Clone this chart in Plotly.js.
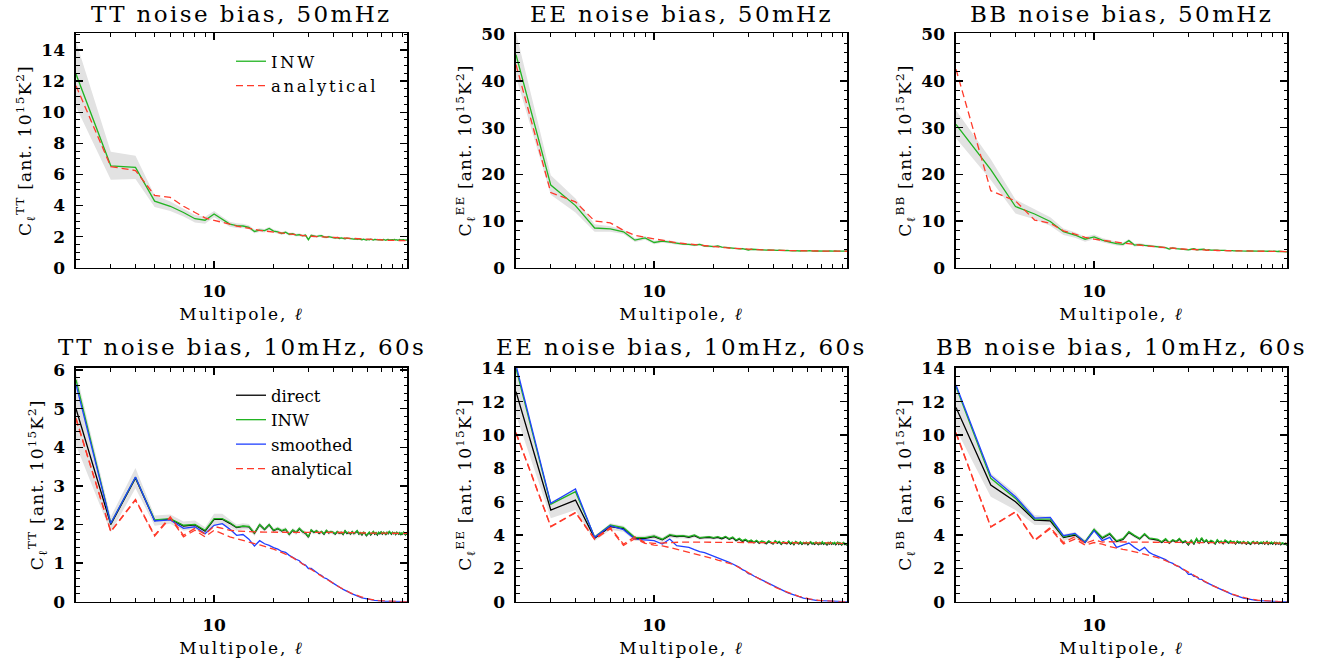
<!DOCTYPE html>
<html>
<head>
<meta charset="utf-8">
<script src="https://cdn.plot.ly/plotly-3.0.1.min.js"></script>
<style>
  html, body { margin: 0; padding: 0; background: #fff; }
  #chart { width: 1326px; height: 666px; }
  .annotation-text { letter-spacing: 2.4px; }
  .legendtext { letter-spacing: 2.6px; }
  .xtitle, .x2title, .x3title, .x4title, .x5title, .x6title { letter-spacing: 2px; }
  .ytitle, .y2title, .y3title, .y4title, .y5title, .y6title { letter-spacing: 1.2px; }
</style>
</head>
<body>
<div id="chart"></div>
<script>
// Multipoles
const ell = [2,3,4,5,6,7,8,9,10,11,12,13,14,15,16,17,18,19,20,21,22,23,24,25,26,27,28,29,30,31,32,33,34,35,36,37,38,39,40,41,42,43,44,45,46,47,48,49,50,51,52,53,54,55,56,57,58,59,60,61,62,63,64,65,66,67,68,69,70,71,72,73,74,75,76,77,78,79,80,81,82,83,84,85,86,87,88,89,90,91,92,93,94,95];
const xTickVals = [10];
const xTickText = ['10'];
const xMinorVals = [3,4,5,6,7,8,9,20,30,40,50,60,70,80,90];

// ---------- Top row: 50 mHz ----------
const TT50_INW = [12.45,6.55,6.45,4.28,3.95,3.55,3.15,3.05,
3.45,3.1,2.8,2.7,2.68,2.6,2.33,2.42,2.38,2.52,
2.35,2.3,2.2,2.28,2.15,2.18,2.1,2.12,2.05,2.1,
1.8,2.08,2.02,2.0,2.05,2.06,1.98,1.95,2.0,1.95,
1.92,1.9,1.94,1.88,1.92,1.9,1.86,1.9,1.88,1.85,
1.88,1.84,1.86,1.82,1.86,1.84,1.8,1.84,1.82,1.78,
1.82,1.8,1.84,1.8,1.78,1.82,1.8,1.83,1.79,1.81,
1.8,1.78,1.82,1.8,1.76,1.8,1.82,1.78,1.8,1.77,
1.8,1.79,1.82,1.78,1.8,1.76,1.79,1.81,1.78,1.8,
1.78,1.8,1.77,1.79,1.76,1.78];
const TT50_ANA = [11.7,6.5,6.25,4.65,4.52,3.95,3.55,3.2,
3.05,2.9,2.78,2.68,2.6,2.52,2.46,2.4,2.36,2.32,
2.28,2.24,2.21,2.18,2.15,2.13,2.11,2.09,2.07,2.05,
2.03,2.02,2.0,1.99,1.98,1.96,1.95,1.94,1.93,1.92,
1.91,1.9,1.9,1.89,1.88,1.88,1.87,1.86,1.86,1.85,
1.85,1.84,1.84,1.83,1.83,1.82,1.82,1.82,1.81,1.81,
1.8,1.8,1.8,1.79,1.79,1.79,1.78,1.78,1.78,1.78,
1.77,1.77,1.77,1.77,1.76,1.76,1.76,1.76,1.76,1.75,
1.75,1.75,1.75,1.75,1.75,1.75,1.75,1.75,1.75,1.75,
1.75,1.74,1.74,1.74,1.74,1.74];
const TT50_ERR = [2.1,0.9,0.75,0.38,0.3,0.26,0.24,0.22,
0.2,0.18,0.16,0.15,0.14,0.13,0.12,0.12,0.11,0.11,
0.1,0.1,0.1,0.1,0.1,0.09,0.09,0.09,0.09,0.09,
0.09,0.08,0.08,0.08,0.08,0.08,0.08,0.08,0.07,0.07,
0.07,0.07,0.07,0.07,0.07,0.07,0.07,0.06,0.06,0.06,
0.06,0.06,0.06,0.06,0.06,0.06,0.06,0.06,0.06,0.06,
0.06,0.06,0.06,0.06,0.06,0.06,0.06,0.06,0.06,0.06,
0.05,0.05,0.05,0.05,0.05,0.05,0.05,0.05,0.05,0.05,
0.05,0.05,0.05,0.05,0.05,0.05,0.05,0.05,0.05,0.05,
0.05,0.05,0.05,0.05,0.05,0.05];

const EE50_INW = [45.6,17.7,13.3,8.5,8.3,7.7,5.9,6.4,
5.4,5.7,5.5,5.2,5.05,5.0,4.85,5.0,4.65,4.6,
4.5,4.65,4.4,4.35,4.25,4.15,4.2,4.05,4.1,3.98,
3.8,3.95,3.9,3.85,3.9,3.82,3.85,3.78,3.8,3.75,
3.72,3.78,3.7,3.74,3.68,3.72,3.66,3.7,3.64,3.68,
3.62,3.66,3.6,3.64,3.62,3.58,3.65,3.6,3.62,3.56,
3.6,3.64,3.58,3.62,3.55,3.6,3.58,3.62,3.56,3.6,
3.58,3.55,3.6,3.57,3.54,3.58,3.55,3.6,3.56,3.54,
3.57,3.55,3.58,3.53,3.56,3.54,3.57,3.52,3.55,3.54,
3.56,3.52,3.55,3.53,3.56,3.55];
const EE50_ANA = [43.5,16.1,14.1,10.0,9.6,8.0,6.9,6.5,
6.1,5.8,5.55,5.35,5.2,5.05,4.92,4.8,4.7,4.6,
4.5,4.42,4.35,4.28,4.22,4.16,4.11,4.06,4.02,3.98,
3.95,3.92,3.89,3.86,3.84,3.82,3.8,3.78,3.76,3.75,
3.73,3.72,3.71,3.7,3.69,3.68,3.67,3.66,3.65,3.65,
3.64,3.63,3.63,3.62,3.62,3.61,3.61,3.6,3.6,3.6,
3.59,3.59,3.59,3.58,3.58,3.58,3.58,3.57,3.57,3.57,
3.57,3.56,3.56,3.56,3.56,3.56,3.55,3.55,3.55,3.55,
3.55,3.54,3.54,3.54,3.54,3.54,3.53,3.53,3.53,3.53,
3.53,3.52,3.52,3.52,3.52,3.52];
const EE50_ERR = [4.7,2.1,1.5,0.8,0.6,0.5,0.42,0.4,
0.36,0.33,0.3,0.28,0.27,0.26,0.25,0.24,0.23,0.22,
0.21,0.2,0.19,0.19,0.18,0.18,0.17,0.17,0.16,0.16,
0.15,0.15,0.15,0.14,0.14,0.14,0.13,0.13,0.13,0.13,
0.12,0.12,0.12,0.12,0.12,0.11,0.11,0.11,0.11,0.11,
0.1,0.1,0.1,0.1,0.1,0.1,0.1,0.1,0.1,0.1,
0.1,0.1,0.1,0.1,0.1,0.1,0.1,0.1,0.1,0.1,
0.09,0.09,0.09,0.09,0.09,0.09,0.09,0.09,0.09,0.09,
0.09,0.09,0.09,0.09,0.09,0.09,0.09,0.09,0.09,0.09,
0.08,0.08,0.08,0.08,0.08,0.08];

const BB50_INW = [30.7,21.0,13.1,11.5,9.9,7.7,7.0,6.1,
6.6,5.9,5.5,5.15,5.0,5.8,4.85,4.95,4.8,4.7,
4.5,4.45,4.35,4.3,4.0,4.25,4.1,4.05,4.0,3.95,
3.8,3.95,4.05,3.85,3.9,3.8,3.95,3.7,3.85,3.75,
3.8,3.72,3.78,3.7,3.75,3.68,3.72,3.66,3.7,3.64,
3.66,3.62,3.68,3.6,3.64,3.62,3.58,3.63,3.6,3.57,
3.6,3.62,3.56,3.6,3.58,3.54,3.6,3.57,3.53,3.58,
3.55,3.52,3.57,3.54,3.5,3.55,3.52,3.56,3.5,3.53,
3.5,3.54,3.48,3.52,3.5,3.47,3.52,3.49,3.46,3.5,
3.47,3.45,3.49,3.44,3.4,3.45];
const BB50_ANA = [42.5,16.5,14.3,10.2,9.5,7.9,7.2,6.5,
6.1,5.85,5.6,5.4,5.2,5.05,4.92,4.8,4.7,4.6,
4.5,4.42,4.34,4.27,4.2,4.14,4.09,4.04,4.0,3.96,
3.92,3.89,3.86,3.83,3.81,3.79,3.77,3.75,3.73,3.72,
3.7,3.69,3.68,3.67,3.66,3.65,3.64,3.63,3.62,3.62,
3.61,3.6,3.6,3.59,3.59,3.58,3.58,3.57,3.57,3.56,
3.56,3.56,3.55,3.55,3.55,3.54,3.54,3.54,3.53,3.53,
3.53,3.52,3.52,3.52,3.51,3.51,3.51,3.5,3.5,3.5,
3.5,3.49,3.49,3.49,3.48,3.48,3.48,3.47,3.47,3.47,
3.46,3.46,3.46,3.45,3.45,3.45];
const BB50_ERR = [3.0,2.2,1.5,1.1,0.9,0.7,0.6,0.55,
0.5,0.46,0.43,0.4,0.38,0.36,0.34,0.32,0.3,0.29,
0.28,0.27,0.26,0.25,0.24,0.23,0.22,0.21,0.2,0.2,
0.19,0.18,0.18,0.17,0.17,0.16,0.16,0.15,0.15,0.15,
0.14,0.14,0.14,0.13,0.13,0.13,0.13,0.12,0.12,0.12,
0.12,0.12,0.11,0.11,0.11,0.11,0.11,0.11,0.1,0.1,
0.1,0.1,0.1,0.1,0.1,0.1,0.1,0.1,0.1,0.1,
0.09,0.09,0.09,0.09,0.09,0.09,0.09,0.09,0.09,0.09,
0.09,0.09,0.09,0.09,0.09,0.09,0.09,0.09,0.09,0.09,
0.08,0.08,0.08,0.08,0.08,0.08];

// ---------- Bottom row: 10 mHz, 60 s ----------
const TT10_DIR = [5.0,2.0,3.2,2.1,2.14,1.96,1.99,1.83,
2.13,2.14,2.03,1.92,1.95,1.94,1.77,1.99,1.87,1.99,
1.84,1.89,1.83,1.87,1.74,1.85,1.79,1.89,1.81,1.77,
1.67,1.85,1.79,1.83,1.77,1.81,1.75,1.84,1.78,1.81,
1.79,1.75,1.81,1.77,1.79,1.74,1.83,1.77,1.79,1.75,
1.81,1.76,1.79,1.83,1.75,1.78,1.73,1.79,1.77,1.71,
1.75,1.79,1.73,1.77,1.81,1.75,1.78,1.73,1.79,1.76,
1.8,1.75,1.79,1.77,1.74,1.79,1.76,1.81,1.77,1.75,
1.79,1.76,1.78,1.74,1.79,1.77,1.75,1.78,1.73,1.77,
1.75,1.79,1.76,1.73,1.77,1.74];
const TT10_INW = [5.75,2.03,3.22,2.12,2.15,1.98,2.0,1.85,
2.15,2.15,2.05,1.93,1.96,1.95,1.78,2.0,1.88,2.0,
1.85,1.9,1.84,1.88,1.75,1.86,1.8,1.9,1.82,1.78,
1.68,1.86,1.8,1.84,1.78,1.82,1.76,1.85,1.79,1.82,
1.8,1.76,1.82,1.78,1.8,1.75,1.84,1.78,1.8,1.76,
1.82,1.77,1.8,1.84,1.76,1.79,1.74,1.8,1.78,1.72,
1.76,1.8,1.74,1.78,1.82,1.76,1.79,1.74,1.8,1.77,
1.81,1.76,1.8,1.78,1.75,1.8,1.77,1.82,1.78,1.76,
1.8,1.77,1.79,1.75,1.8,1.78,1.76,1.79,1.74,1.78,
1.76,1.8,1.77,1.74,1.78,1.75];
const TT10_SMO = [5.63,2.03,3.23,2.09,2.12,1.9,1.94,1.76,
1.98,2.02,1.88,1.72,1.74,1.62,1.44,1.58,1.5,1.46,
1.4,1.36,1.3,1.28,1.2,1.16,1.1,1.06,0.98,0.95,
0.86,0.86,0.8,0.76,0.71,0.68,0.62,0.6,0.55,0.52,
0.48,0.44,0.42,0.38,0.35,0.32,0.3,0.27,0.25,0.22,
0.2,0.18,0.16,0.15,0.13,0.12,0.1,0.09,0.08,0.07,
0.06,0.055,0.05,0.045,0.04,0.035,0.03,0.028,0.025,0.02,
0.018,0.016,0.014,0.012,0.01,0.009,0.008,0.007,0.006,0.005,
0.004,0.004,0.003,0.003,0.003,0.002,0.002,0.002,0.002,0.001,
0.001,0.001,0.001,0.001,0.001,0.001];
const TT10_ANA = [4.75,1.82,2.65,1.72,2.2,1.72,1.9,1.75,
1.95,1.9,1.85,1.83,1.82,1.81,1.8,1.8,1.8,1.8,
1.8,1.8,1.8,1.8,1.8,1.8,1.8,1.8,1.8,1.8,
1.8,1.8,1.8,1.8,1.8,1.8,1.79,1.79,1.79,1.79,
1.79,1.79,1.79,1.79,1.79,1.79,1.79,1.79,1.79,1.79,
1.79,1.79,1.79,1.79,1.79,1.78,1.78,1.78,1.78,1.78,
1.78,1.78,1.78,1.78,1.78,1.78,1.78,1.78,1.78,1.78,
1.78,1.78,1.78,1.78,1.78,1.77,1.77,1.77,1.77,1.77,
1.77,1.77,1.77,1.77,1.77,1.77,1.77,1.77,1.77,1.77,
1.77,1.77,1.77,1.77,1.77,1.77];
const TT10_ANAS = [4.73,1.81,2.63,1.7,2.17,1.68,1.85,1.68,
1.85,1.76,1.68,1.63,1.59,1.55,1.51,1.47,1.43,1.4,
1.36,1.32,1.28,1.23,1.19,1.14,1.09,1.04,0.98,0.93,
0.88,0.84,0.79,0.75,0.7,0.66,0.62,0.58,0.54,0.5,
0.47,0.44,0.41,0.38,0.35,0.33,0.3,0.27,0.25,0.23,
0.21,0.19,0.17,0.16,0.14,0.13,0.12,0.1,0.09,0.08,
0.075,0.066,0.06,0.053,0.047,0.042,0.037,0.033,0.029,0.026,
0.023,0.02,0.018,0.016,0.014,0.012,0.011,0.01,0.009,0.008,
0.007,0.006,0.005,0.005,0.004,0.004,0.003,0.003,0.003,0.002,
0.002,0.002,0.002,0.001,0.001,0.001];
const TT10_ERR = [0.95,0.2,0.26,0.13,0.12,0.12,0.11,0.1,
0.15,0.14,0.1,0.08,0.08,0.07,0.07,0.07,0.06,0.06,
0.06,0.06,0.06,0.06,0.06,0.06,0.06,0.06,0.06,0.06,
0.05,0.05,0.05,0.05,0.05,0.05,0.05,0.05,0.05,0.05,
0.05,0.05,0.05,0.05,0.05,0.05,0.05,0.05,0.05,0.05,
0.05,0.05,0.05,0.05,0.05,0.05,0.05,0.05,0.05,0.05,
0.04,0.04,0.04,0.04,0.04,0.04,0.04,0.04,0.04,0.04,
0.04,0.04,0.04,0.04,0.04,0.04,0.04,0.04,0.04,0.04,
0.04,0.04,0.04,0.04,0.04,0.04,0.04,0.04,0.04,0.04,
0.04,0.04,0.04,0.04,0.04,0.04];

const EE10_DIR = [12.6,5.5,6.1,3.8,4.5,4.38,3.8,3.8,
3.91,3.71,3.98,3.91,3.93,3.86,3.96,3.81,3.84,3.86,
3.81,3.86,3.78,3.88,3.74,3.84,3.66,3.76,3.62,3.71,
3.58,3.66,3.54,3.64,3.51,3.6,3.56,3.48,3.61,3.54,
3.46,3.62,3.51,3.58,3.44,3.56,3.52,3.48,3.6,3.46,
3.54,3.42,3.58,3.5,3.46,3.56,3.44,3.52,3.48,3.54,
3.42,3.51,3.56,3.46,3.5,3.44,3.54,3.48,3.42,3.52,
3.46,3.56,3.44,3.5,3.48,3.41,3.52,3.46,3.54,3.44,
3.5,3.46,3.52,3.42,3.48,3.54,3.44,3.5,3.46,3.4,
3.48,3.52,3.44,3.46,3.41,3.48];
const EE10_INW = [14.0,5.85,6.6,3.88,4.6,4.45,3.85,3.85,
3.95,3.75,4.02,3.95,3.97,3.9,4.0,3.85,3.88,3.9,
3.85,3.9,3.82,3.92,3.78,3.88,3.7,3.8,3.66,3.75,
3.62,3.7,3.58,3.68,3.55,3.64,3.6,3.52,3.65,3.58,
3.5,3.66,3.55,3.62,3.48,3.6,3.56,3.52,3.64,3.5,
3.58,3.46,3.62,3.54,3.5,3.6,3.48,3.56,3.52,3.58,
3.46,3.55,3.6,3.5,3.54,3.48,3.58,3.52,3.46,3.56,
3.5,3.6,3.48,3.54,3.52,3.45,3.56,3.5,3.58,3.48,
3.54,3.5,3.56,3.46,3.52,3.58,3.48,3.54,3.5,3.44,
3.52,3.56,3.48,3.5,3.45,3.52];
const EE10_SMO = [14.2,5.9,6.76,3.86,4.56,4.32,3.76,3.72,
3.66,3.46,3.76,3.36,3.32,3.26,3.12,3.0,2.94,2.84,
2.7,2.64,2.55,2.48,2.36,2.26,2.16,2.06,1.92,1.84,
1.68,1.64,1.54,1.46,1.36,1.3,1.22,1.14,1.08,1.0,
0.94,0.9,0.83,0.77,0.71,0.66,0.61,0.56,0.51,0.47,
0.43,0.39,0.36,0.32,0.29,0.27,0.24,0.22,0.2,0.18,
0.16,0.14,0.13,0.11,0.1,0.09,0.08,0.07,0.06,0.055,
0.05,0.045,0.04,0.035,0.03,0.027,0.024,0.02,0.018,0.016,
0.014,0.012,0.011,0.01,0.009,0.008,0.007,0.006,0.005,0.004,
0.004,0.003,0.003,0.002,0.002,0.002];
const EE10_ANA = [10.15,4.52,5.36,3.78,4.45,3.45,3.9,3.55,
3.5,3.52,3.58,3.6,3.58,3.58,3.57,3.57,3.56,3.56,
3.56,3.56,3.56,3.56,3.56,3.56,3.56,3.56,3.56,3.56,
3.55,3.55,3.55,3.55,3.55,3.55,3.55,3.55,3.55,3.55,
3.55,3.55,3.55,3.55,3.55,3.54,3.54,3.54,3.54,3.54,
3.54,3.54,3.54,3.54,3.54,3.54,3.54,3.54,3.54,3.54,
3.53,3.53,3.53,3.53,3.53,3.53,3.53,3.53,3.53,3.53,
3.52,3.52,3.52,3.52,3.52,3.52,3.52,3.52,3.52,3.52,
3.52,3.52,3.52,3.52,3.52,3.51,3.51,3.51,3.51,3.51,
3.51,3.5,3.5,3.5,3.5,3.5];
const EE10_ANAS = [10.1,4.5,5.33,3.74,4.38,3.38,3.78,3.5,
3.4,3.35,3.25,3.15,3.05,2.98,2.9,2.82,2.74,2.66,
2.58,2.5,2.44,2.38,2.31,2.24,2.15,2.05,1.94,1.84,
1.74,1.64,1.55,1.46,1.37,1.29,1.21,1.13,1.06,0.99,
0.93,0.87,0.81,0.76,0.71,0.66,0.61,0.57,0.53,0.49,
0.45,0.42,0.38,0.35,0.32,0.3,0.27,0.25,0.23,0.21,
0.19,0.17,0.16,0.14,0.13,0.12,0.105,0.095,0.085,0.075,
0.068,0.06,0.054,0.048,0.043,0.038,0.034,0.03,0.027,0.024,
0.021,0.019,0.017,0.015,0.013,0.012,0.01,0.009,0.008,0.007,
0.006,0.005,0.005,0.004,0.004,0.003];
const EE10_ERR = [1.4,0.5,0.6,0.16,0.2,0.18,0.16,0.15,
0.15,0.14,0.14,0.12,0.12,0.11,0.11,0.1,0.1,0.1,
0.09,0.09,0.09,0.09,0.09,0.09,0.09,0.09,0.09,0.09,
0.09,0.09,0.09,0.09,0.09,0.09,0.09,0.09,0.09,0.09,
0.08,0.08,0.08,0.08,0.08,0.08,0.08,0.08,0.08,0.08,
0.08,0.08,0.08,0.08,0.08,0.08,0.08,0.08,0.08,0.08,
0.07,0.07,0.07,0.07,0.07,0.07,0.07,0.07,0.07,0.07,
0.07,0.07,0.07,0.07,0.07,0.07,0.07,0.07,0.07,0.07,
0.07,0.07,0.07,0.07,0.07,0.07,0.07,0.07,0.07,0.07,
0.07,0.07,0.07,0.07,0.07,0.07];

const BB10_DIR = [11.65,7.0,6.0,4.9,4.85,3.85,4.0,3.56,
4.31,3.81,4.06,3.61,3.74,4.16,3.94,3.76,4.04,3.78,
3.74,3.7,3.56,3.74,3.51,3.68,3.58,3.76,3.54,3.62,
3.41,3.66,3.46,3.76,3.52,3.8,3.56,3.68,3.51,3.64,
3.58,3.46,3.68,3.54,3.6,3.48,3.66,3.56,3.51,3.62,
3.54,3.58,3.46,3.6,3.52,3.56,3.48,3.58,3.54,3.46,
3.56,3.52,3.44,3.54,3.58,3.48,3.52,3.56,3.46,3.51,
3.54,3.48,3.56,3.46,3.51,3.58,3.44,3.52,3.48,3.54,
3.46,3.5,3.54,3.44,3.52,3.48,3.46,3.52,3.42,3.48,
3.5,3.46,3.44,3.48,3.41,3.46];
const BB10_INW = [12.9,7.4,6.2,4.95,4.95,3.9,4.05,3.6,
4.35,3.85,4.1,3.65,3.78,4.2,3.98,3.8,4.08,3.82,
3.78,3.74,3.6,3.78,3.55,3.72,3.62,3.8,3.58,3.66,
3.45,3.7,3.5,3.8,3.56,3.84,3.6,3.72,3.55,3.68,
3.62,3.5,3.72,3.58,3.64,3.52,3.7,3.6,3.55,3.66,
3.58,3.62,3.5,3.64,3.56,3.6,3.52,3.62,3.58,3.5,
3.6,3.56,3.48,3.58,3.62,3.52,3.56,3.6,3.5,3.55,
3.58,3.52,3.6,3.5,3.55,3.62,3.48,3.56,3.52,3.58,
3.5,3.54,3.58,3.48,3.56,3.52,3.5,3.56,3.46,3.52,
3.54,3.5,3.48,3.52,3.45,3.5];
const BB10_SMO = [13.0,7.56,6.3,5.02,5.06,3.96,4.1,3.56,
4.26,3.66,3.86,3.26,3.4,3.52,3.26,3.06,3.26,2.96,
2.82,2.72,2.6,2.52,2.38,2.3,2.16,2.1,1.95,1.86,
1.64,1.66,1.52,1.5,1.36,1.34,1.22,1.16,1.08,1.02,
0.96,0.9,0.84,0.78,0.72,0.66,0.62,0.56,0.52,0.48,
0.44,0.4,0.36,0.33,0.3,0.27,0.25,0.22,0.2,0.18,
0.16,0.15,0.13,0.12,0.1,0.09,0.08,0.07,0.065,0.058,
0.05,0.045,0.04,0.035,0.031,0.027,0.024,0.021,0.018,0.016,
0.014,0.012,0.011,0.01,0.009,0.008,0.007,0.006,0.005,0.004,
0.004,0.003,0.003,0.002,0.002,0.002];
const BB10_ANA = [10.15,4.5,5.4,3.7,4.45,3.55,3.9,3.5,
3.7,3.58,3.6,3.58,3.6,3.58,3.58,3.57,3.57,3.56,
3.56,3.56,3.56,3.56,3.56,3.56,3.56,3.56,3.56,3.56,
3.55,3.55,3.55,3.55,3.55,3.55,3.55,3.55,3.55,3.55,
3.55,3.55,3.55,3.55,3.55,3.54,3.54,3.54,3.54,3.54,
3.54,3.54,3.54,3.54,3.54,3.54,3.54,3.54,3.54,3.54,
3.53,3.53,3.53,3.53,3.53,3.53,3.53,3.53,3.53,3.53,
3.52,3.52,3.52,3.52,3.52,3.52,3.52,3.52,3.52,3.52,
3.52,3.52,3.52,3.52,3.52,3.51,3.51,3.51,3.51,3.51,
3.51,3.5,3.5,3.5,3.5,3.5];
const BB10_ANAS = [10.1,4.48,5.37,3.66,4.38,3.46,3.76,3.4,
3.55,3.45,3.3,3.2,3.14,3.08,3.0,2.94,2.87,2.8,
2.72,2.64,2.56,2.47,2.38,2.28,2.18,2.08,1.97,1.87,
1.76,1.66,1.57,1.48,1.39,1.31,1.23,1.15,1.08,1.01,
0.95,0.89,0.83,0.77,0.72,0.67,0.62,0.58,0.54,0.5,
0.46,0.42,0.39,0.36,0.33,0.3,0.28,0.25,0.23,0.21,
0.19,0.17,0.16,0.14,0.13,0.12,0.105,0.095,0.085,0.075,
0.068,0.06,0.054,0.048,0.043,0.038,0.034,0.03,0.027,0.024,
0.021,0.019,0.017,0.015,0.013,0.012,0.01,0.009,0.008,0.007,
0.006,0.005,0.005,0.004,0.004,0.003];
const BB10_ERR = [1.3,0.7,0.5,0.3,0.25,0.2,0.18,0.16,
0.15,0.14,0.13,0.12,0.12,0.11,0.11,0.1,0.1,0.1,
0.09,0.09,0.09,0.09,0.09,0.09,0.09,0.09,0.09,0.09,
0.09,0.09,0.09,0.09,0.09,0.09,0.09,0.09,0.09,0.09,
0.08,0.08,0.08,0.08,0.08,0.08,0.08,0.08,0.08,0.08,
0.08,0.08,0.08,0.08,0.08,0.08,0.08,0.08,0.08,0.08,
0.07,0.07,0.07,0.07,0.07,0.07,0.07,0.07,0.07,0.07,
0.07,0.07,0.07,0.07,0.07,0.07,0.07,0.07,0.07,0.07,
0.07,0.07,0.07,0.07,0.07,0.07,0.07,0.07,0.07,0.07,
0.07,0.07,0.07,0.07,0.07,0.07];

const titles = ['TT noise bias, 50mHz','EE noise bias, 50mHz','BB noise bias, 50mHz',
                'TT noise bias, 10mHz, 60s','EE noise bias, 10mHz, 60s','BB noise bias, 10mHz, 60s'];
const specs = ['TT','EE','BB','TT','EE','BB'];

// ---------- styling ----------
const SERIF = 'DejaVu Serif';
const C_GREEN = '#22b422', C_RED = '#ff3a2a', C_BLUE = '#2040ff', C_BLACK = '#000000', C_BAND = '#e2e2e2';
const LW = 1.3;

function bandTrace(center, err, n) {
  const xs = ell.concat(ell.slice().reverse());
  const up = center.map((v, i) => v + err[i]);
  const lo = center.map((v, i) => v - err[i]).reverse();
  return {x: xs, y: up.concat(lo), xaxis: 'x' + n, yaxis: 'y' + n, type: 'scatter', mode: 'lines',
          fill: 'toself', fillcolor: C_BAND, line: {width: 0, color: C_BAND}, showlegend: false, hoverinfo: 'skip'};
}
function lineTrace(y, n, color, name, dash, legend, show) {
  return {x: ell, y: y, xaxis: 'x' + n, yaxis: 'y' + n, type: 'scatter', mode: 'lines', name: name,
          line: {color: color, width: LW, dash: dash || 'solid'}, showlegend: !!show, legend: legend || 'legend'};
}

const traces = [];
// top row
[[TT50_INW, TT50_ANA, TT50_ERR], [EE50_INW, EE50_ANA, EE50_ERR], [BB50_INW, BB50_ANA, BB50_ERR]].forEach((d, k) => {
  const n = k + 1;
  traces.push(bandTrace(d[0], d[2], n));
  traces.push(lineTrace(d[0], n, C_GREEN, 'INW', 'solid', 'legend', k === 0));
  traces.push(lineTrace(d[1], n, C_RED, 'analytical', '7px,4px', 'legend', k === 0));
});
// bottom row
[[TT10_DIR, TT10_INW, TT10_SMO, TT10_ANA, TT10_ANAS, TT10_ERR],
 [EE10_DIR, EE10_INW, EE10_SMO, EE10_ANA, EE10_ANAS, EE10_ERR],
 [BB10_DIR, BB10_INW, BB10_SMO, BB10_ANA, BB10_ANAS, BB10_ERR]].forEach((d, k) => {
  const n = k + 4;
  const L = k === 0;
  traces.push(bandTrace(d[0], d[5], n));
  traces.push(lineTrace(d[0], n, C_BLACK, 'direct', 'solid', 'legend2', L));
  traces.push(lineTrace(d[1], n, C_GREEN, 'INW', 'solid', 'legend2', L));
  traces.push(lineTrace(d[2], n, C_BLUE, 'smoothed', 'solid', 'legend2', L));
  traces.push(lineTrace(d[3], n, C_RED, 'analytical', '7px,4px', 'legend2', L));
  traces.push(lineTrace(d[4], n, C_RED, 'analytical', '7px,4px', 'legend2', false));
});

// geometry (pixels in a 1326x666 page)
const W = 1326, H = 666;
const colsPx = [[76, 407.3], [516, 847.3], [956, 1287.3]];
const rowsPx = [[33.3, 267.7], [367.7, 601.7]];
const yRanges = [[0, 15.07], [0, 50.2], [0, 50.2], [0, 6.06], [0, 14.04], [0, 14.04]];
const yDtick = [2, 10, 10, 1, 2, 2];
const yMinor = [0.5, 2, 2, 0.2, 0.5, 0.5];

const legendFont = {family: SERIF, size: 16.5, color: '#000'};
const layout = {
  width: W, height: H, margin: {l: 0, r: 0, t: 0, b: 0},
  paper_bgcolor: '#fff', plot_bgcolor: '#fff',
  font: {family: SERIF, color: '#000'},
  hovermode: false,
  annotations: [],
  legend: {x: 231 / W, xanchor: 'left', y: 1 - 44 / H, yanchor: 'top', bgcolor: 'rgba(0,0,0,0)',
           font: legendFont, tracegroupgap: 0, itemwidth: 30},
  legend2: {x: 231 / W, xanchor: 'left', y: 1 - 378 / H, yanchor: 'top', bgcolor: 'rgba(0,0,0,0)',
           font: legendFont, tracegroupgap: 0, itemwidth: 30}
};

for (let i = 0; i < 6; i++) {
  const n = i + 1;
  const c = colsPx[i % 3], r = rowsPx[Math.floor(i / 3)];
  const sfx = n === 1 ? '' : String(n);
  layout['xaxis' + sfx] = {
    type: 'log', range: [Math.log10(ell[0]), Math.log10(ell[ell.length - 1])],
    domain: [c[0] / W, c[1] / W], anchor: 'y' + n,
    tickmode: 'array', tickvals: xTickVals, ticktext: xTickText,
    ticks: 'inside', ticklen: 7, tickwidth: 1.3, tickcolor: '#000',
    minor: {tickmode: 'array', tickvals: xMinorVals, ticks: 'inside', ticklen: 4, tickwidth: 1, tickcolor: '#000', showgrid: false},
    showline: true, linecolor: '#000', linewidth: 1.6, mirror: 'ticks',
    showgrid: false, zeroline: false,
    tickfont: {family: SERIF, size: 17, weight: 'bold', color: '#000'}, ticklabelstandoff: 7,
    title: {text: 'Multipole, <i>ℓ</i>', font: {family: SERIF, size: 17, color: '#000'}, standoff: 8}
  };
  layout['yaxis' + sfx] = {
    range: yRanges[i], domain: [1 - r[1] / H, 1 - r[0] / H], anchor: 'x' + n,
    dtick: yDtick[i], tick0: 0,
    ticks: 'inside', ticklen: 7, tickwidth: 1.3, tickcolor: '#000',
    minor: {dtick: yMinor[i], ticks: 'inside', ticklen: 3.5, tickwidth: 1, tickcolor: '#000', showgrid: false},
    showline: true, linecolor: '#000', linewidth: 1.6, mirror: 'ticks',
    showgrid: false, zeroline: false,
    tickfont: {family: SERIF, size: 17, weight: 'bold', color: '#000'}, ticklabelstandoff: 6,
    title: {text: 'C<sub>ℓ</sub><sup>' + specs[i] + '</sup> [ant. 10<sup>15</sup>K<sup>2</sup>]',
            font: {family: SERIF, size: 17, color: '#000'}, standoff: 5}
  };
  layout.annotations.push({
    text: titles[i], xref: 'paper', yref: 'paper',
    x: (c[0] + c[1]) / 2 / W, y: 1 - (i < 3 ? 14 : 347) / H,
    xanchor: 'center', yanchor: 'middle', showarrow: false,
    font: {family: SERIF, size: 23, color: '#000'}
  });
}

Plotly.newPlot('chart', traces, layout, {displayModeBar: false, staticPlot: true});
</script>
</body>
</html>
